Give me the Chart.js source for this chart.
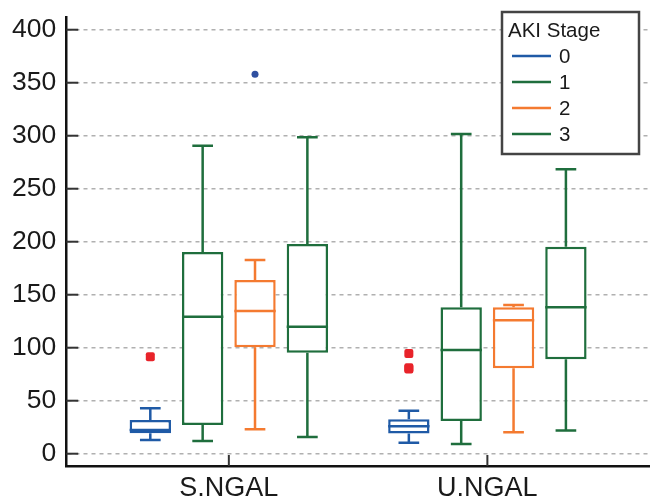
<!DOCTYPE html>
<html>
<head>
<meta charset="utf-8">
<script src="https://cdn.jsdelivr.net/npm/chart.js@4.4.1/dist/chart.umd.min.js"></script>
<style>
  body { margin: 0; background: #fff; }
  canvas { display: block; }
</style>
</head>
<body>
<canvas id="boxChart" width="650" height="500"></canvas>
<script>
// categories and stages
const groups = ["S.NGAL", "U.NGAL"];
const stages = ["0", "1", "2", "3"];
const yTicks = [0, 50, 100, 150, 200, 250, 300, 350, 400];

// box plot values per stage: [S.NGAL, U.NGAL]
const whiskerLow  = [[12.9, 10.4], [12, 9.2],     [23, 20.2],    [15.7, 22]];
const q1          = [[19.2, 19],   [27, 30.8],    [100.4, 80.6], [95.3, 89]];
const median      = [[22.4, 26],   [129.3, 97.8], [134.6, 125.8],[119.8, 138.1]];
const q3          = [[31.8, 32.5], [190.3, 138.1],[163.9, 138.1],[197.8, 195.3]];
const whiskerHigh = [[42.8, 40.6], [290.6, 301.6],[182.7, 140.3],[298.5, 268.3]];
const outliers    = [[[91.5], [94.5, 81, 80]], [[], []], [[358], []], [[], []]];

const colors = ["#1f5aa6", "#1f6e3d", "#f47a30", "#1f6e3d"];
const outlierColors = ["#e8232a", "#e8232a", "#2f4fa0", "#e8232a"];
const textColor = "#1a1a1a";
const fontFamily = "'Liberation Sans', Arial, sans-serif";

const datasets = stages.map((s, i) => ({
    label: s,
    data: groups.map((g, j) => ({ x: j + 1, y: [q1[i][j], q3[i][j]] })),
    backgroundColor: "#ffffff",
    borderColor: colors[i],
    borderWidth: 2.5,
    borderSkipped: false,
    categoryPercentage: 0.81,
    barPercentage: 0.79
}));

const boxPlugin = {
    id: "boxParts",
    beforeDatasetsDraw(chart) {
        const ctx = chart.ctx;
        const area = chart.chartArea;
        const xs = chart.scales.x, ys = chart.scales.y;
        ctx.save();
        ctx.strokeStyle = "#333";
        ctx.lineWidth = 2;
        yTicks.forEach(v => {
            const y = ys.getPixelForValue(v);
            ctx.beginPath();
            ctx.moveTo(area.left, y);
            ctx.lineTo(area.left + 12, y);
            ctx.stroke();
        });
        groups.forEach((g, j) => {
            const x = xs.getPixelForValue(j + 1);
            ctx.beginPath();
            ctx.moveTo(x, area.bottom);
            ctx.lineTo(x, area.bottom - 11);
            ctx.stroke();
        });
        ctx.restore();
    },
    afterDatasetsDraw(chart) {
        const ctx = chart.ctx;
        const ys = chart.scales.y;
        ctx.save();
        stages.forEach((s, i) => {
            const meta = chart.getDatasetMeta(i);
            meta.data.forEach((bar, j) => {
                const x = bar.x, w = bar.width;
                ctx.strokeStyle = colors[i];
                ctx.lineWidth = 2.5;
                ctx.beginPath();
                // median
                const m = ys.getPixelForValue(median[i][j]);
                ctx.moveTo(x - w / 2, m);
                ctx.lineTo(x + w / 2, m);
                // upper whisker
                const top = ys.getPixelForValue(q3[i][j]);
                const hi = ys.getPixelForValue(whiskerHigh[i][j]);
                ctx.moveTo(x, top);
                ctx.lineTo(x, hi);
                ctx.moveTo(x - w / 4, hi);
                ctx.lineTo(x + w / 4, hi);
                // lower whisker
                const bot = ys.getPixelForValue(q1[i][j]);
                const lo = ys.getPixelForValue(whiskerLow[i][j]);
                ctx.moveTo(x, bot);
                ctx.lineTo(x, lo);
                ctx.moveTo(x - w / 4, lo);
                ctx.lineTo(x + w / 4, lo);
                ctx.stroke();
                // outliers
                outliers[i][j].forEach(v => {
                    const y = ys.getPixelForValue(v);
                    ctx.fillStyle = outlierColors[i];
                    ctx.beginPath();
                    if (i === 0) {
                        ctx.roundRect(x - 4.5, y - 4.5, 9, 9, 2);
                    } else {
                        ctx.arc(x, y, 3.5, 0, Math.PI * 2);
                    }
                    ctx.fill();
                });
            });
        });

        // legend box
        const lx = 502, ly = 12, lw = 137, lh = 142;
        ctx.fillStyle = "#fff";
        ctx.fillRect(lx, ly, lw, lh);
        ctx.strokeStyle = "#444";
        ctx.lineWidth = 2.5;
        ctx.strokeRect(lx, ly, lw, lh);
        ctx.fillStyle = textColor;
        ctx.font = "20.5px " + fontFamily;
        ctx.textBaseline = "middle";
        ctx.textAlign = "left";
        ctx.fillText("AKI Stage", lx + 6, ly + 19);
        stages.forEach((s, i) => {
            const y = ly + 44 + i * 26;
            ctx.strokeStyle = colors[i];
            ctx.lineWidth = 2.5;
            ctx.beginPath();
            ctx.moveTo(lx + 10, y);
            ctx.lineTo(lx + 49, y);
            ctx.stroke();
            ctx.fillStyle = textColor;
            ctx.fillText(s, lx + 57, y + 1);
        });
        ctx.restore();
    }
};

new Chart(document.getElementById("boxChart"), {
    type: "bar",
    data: { datasets: datasets },
    options: {
        responsive: false,
        animation: false,
        layout: { padding: { left: 2, top: 17, right: 0, bottom: -12 } },
        plugins: {
            legend: { display: false },
            tooltip: { enabled: false }
        },
        scales: {
            x: {
                type: "linear",
                offset: false,
                bounds: "data",
                min: 0.371,
                max: 2.629,
                afterBuildTicks: axis => { axis.ticks = groups.map((g, j) => ({ value: j + 1 })); },
                ticks: {
                    callback: v => groups[v - 1],
                    color: textColor,
                    font: { family: fontFamily, size: 27, lineHeight: 1.0 },
                    padding: 9.5,
                    maxRotation: 0
                },
                grid: { display: false, drawTicks: false, offset: false },
                border: { display: true, color: "#111", width: 2.5 }
            },
            y: {
                min: -11.6,
                max: 412,
                afterBuildTicks: axis => { axis.ticks = yTicks.map(v => ({ value: v })); },
                afterFit: axis => { axis.paddingTop = 0; axis.paddingBottom = 0; },
                ticks: {
                    color: textColor,
                    font: { family: fontFamily, size: 26.5 },
                    padding: 10
                },
                grid: { color: "#b0b0b0", lineWidth: 1.5, drawTicks: false },
                border: { display: true, color: "#111", width: 2.5, dash: [4, 4] }
            }
        }
    },
    plugins: [boxPlugin]
});
</script>
</body>
</html>
